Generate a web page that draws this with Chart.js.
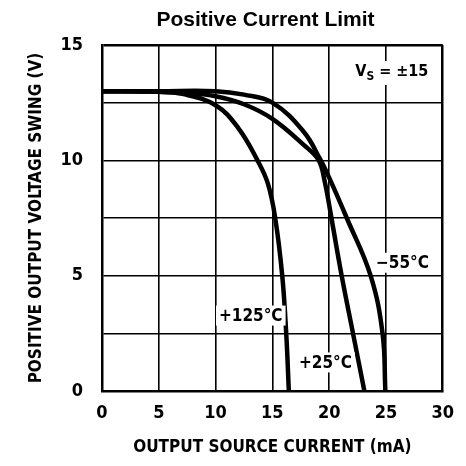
<!DOCTYPE html>
<html>
<head>
<meta charset="utf-8">
<script src="https://cdn.jsdelivr.net/npm/chart.js@4"></script>
<style>
  html, body { margin: 0; padding: 0; background: #fff; }
  #wrap { width: 466px; height: 466px; }
</style>
</head>
<body>
<div id="wrap"><canvas id="res-canvas" width="466" height="466"></canvas></div>
<script>
// values (mA, V)
const current125 = [0, 5, 7.07, 10, 12.0, 13.69, 14.6, 15.25, 15.87, 16.22, 16.45];
const volts125   = [13.0, 12.97, 12.88, 12.39, 11.4, 10.0, 9.0, 7.5, 5.0, 2.5, 0];

const current25 = [0, 5, 7.5, 10, 12.5, 15, 17.76, 19.08, 19.6, 20.2, 21.1, 22.1, 23.1];
const volts25   = [13.0, 12.97, 12.92, 12.78, 12.43, 11.8, 10.67, 10.0, 9.1, 7.5, 5.0, 2.5, 0];

const currentM55 = [0, 5, 10, 12.5, 15, 17.76, 19.2, 20.0, 21.55, 23.65, 24.7, 24.95];
const voltsM55   = [13.0, 13.0, 13.0, 12.85, 12.5, 11.24, 10.05, 9.25, 7.5, 5.0, 2.5, 0];

const xTicks = [0, 5, 10, 15, 20, 25, 30];
const yTickLabels = [0, 5, 10, 15];

const narrow = "'DejaVu Sans Condensed', 'Liberation Sans Narrow', sans-serif";

function toPoints(xs, ys) {
    let pts = [];
    for (let i = 0; i < xs.length; i++) {
        pts.push({ x: xs[i], y: ys[i] });
    }
    return pts;
}

// curve labels, placed in data units
const curveLabels = [
    { text: '+125°C', x: 13.1, y: 3.27 },
    { text: '+25°C', x: 19.67, y: 1.24 },
    { text: '\u221255°C', x: 26.45, y: 5.56 }
];

const labelPlugin = {
    id: 'curveLabels',
    afterDraw(chart) {
        const ctx = chart.ctx;
        ctx.save();
        ctx.fillStyle = '#000';
        ctx.font = "bold 21px 'Liberation Sans', Arial, sans-serif";
        ctx.textAlign = 'center';
        ctx.textBaseline = 'middle';
        ctx.fillText('Positive Current Limit', 265.5, 20.5);
        ctx.restore();
    },
    afterDatasetsDraw(chart) {
        const ctx = chart.ctx;
        const xs = chart.scales.x;
        const ys = chart.scales.y;
        ctx.save();
        ctx.font = 'bold 17px ' + narrow;
        ctx.textAlign = 'center';
        ctx.textBaseline = 'middle';
        curveLabels.forEach(l => {
            let px = xs.getPixelForValue(l.x);
            let py = ys.getPixelForValue(l.y);
            let w = ctx.measureText(l.text).width;
            ctx.fillStyle = '#fff';
            ctx.fillRect(px - w / 2 - 3, py - 10, w + 6, 20);
            ctx.fillStyle = '#000';
            ctx.fillText(l.text, px, py + 1);
        });

        // V_S = ±15 with subscript
        let px = xs.getPixelForValue(22.3);
        let py = ys.getPixelForValue(13.83);
        ctx.textAlign = 'left';
        ctx.font = 'bold 16px ' + narrow;
        let wV = ctx.measureText('V').width;
        let rest = ' = ±15';
        let wR = ctx.measureText(rest).width;
        ctx.font = 'bold 12px ' + narrow;
        let wS = ctx.measureText('S').width;
        ctx.fillStyle = '#fff';
        ctx.fillRect(px - 3, py - 11, wV + wS + wR + 6, 24);
        ctx.fillStyle = '#000';
        ctx.fillText('S', px + wV, py + 5);
        ctx.font = 'bold 16px ' + narrow;
        ctx.fillText('V', px, py);
        ctx.fillText(rest, px + wV + wS, py);
        ctx.restore();
    }
};

function curve(xs, ys) {
    return {
        data: toPoints(xs, ys),
        borderColor: '#000',
        borderWidth: 4.5,
        pointRadius: 0,
        fill: false,
        tension: 0.4
    };
}

const ctx = document.getElementById('res-canvas').getContext('2d');

new Chart(ctx, {
    type: 'line',
    data: {
        datasets: [
            curve(current125, volts125),
            curve(current25, volts25),
            curve(currentM55, voltsM55)
        ]
    },
    plugins: [labelPlugin],
    options: {
        responsive: false,
        animation: false,
        layout: { autoPadding: false, padding: { left: 0, right: 17.5, top: 45, bottom: 0 } },
        plugins: {
            legend: { display: false },
            tooltip: { enabled: false },
            title: { display: false }
        },
        scales: {
            x: {
                type: 'linear',
                min: 0,
                max: 30,
                afterFit: s => { s.height = 75; },
                afterBuildTicks: s => { s.ticks = xTicks.map(v => ({ value: v })); },
                ticks: {
                    color: '#000',
                    padding: 12,
                    maxRotation: 0,
                    font: { family: narrow, size: 18, weight: 'bold' }
                },
                grid: {
                    color: '#000',
                    drawTicks: false,
                    lineWidth: c => (c.tick && c.tick.value === 30 ? 2.5 : 1.6)
                },
                border: { color: '#000', width: 2.5 },
                title: {
                    display: true,
                    text: 'OUTPUT SOURCE CURRENT (mA)',
                    color: '#000',
                    font: { family: narrow, size: 17, weight: 'bold' },
                    padding: { top: 0, bottom: 8 }
                }
            },
            y: {
                type: 'linear',
                min: 0,
                max: 15,
                afterFit: s => { s.width = 102; },
                ticks: {
                    stepSize: 2.5,
                    color: '#000',
                    padding: 19,
                    font: { family: narrow, size: 18, weight: 'bold' },
                    callback: v => (yTickLabels.includes(v) ? v : '')
                },
                grid: {
                    color: '#000',
                    drawTicks: false,
                    lineWidth: c => (c.tick && c.tick.value === 15 ? 2.5 : 1.6)
                },
                border: { color: '#000', width: 2.5 },
                title: {
                    display: true,
                    text: 'POSITIVE OUTPUT VOLTAGE SWING (V)',
                    color: '#000',
                    font: { family: narrow, size: 17, weight: 'bold' },
                    padding: { top: 26, bottom: 0 }
                }
            }
        }
    }
});
</script>
</body>
</html>
